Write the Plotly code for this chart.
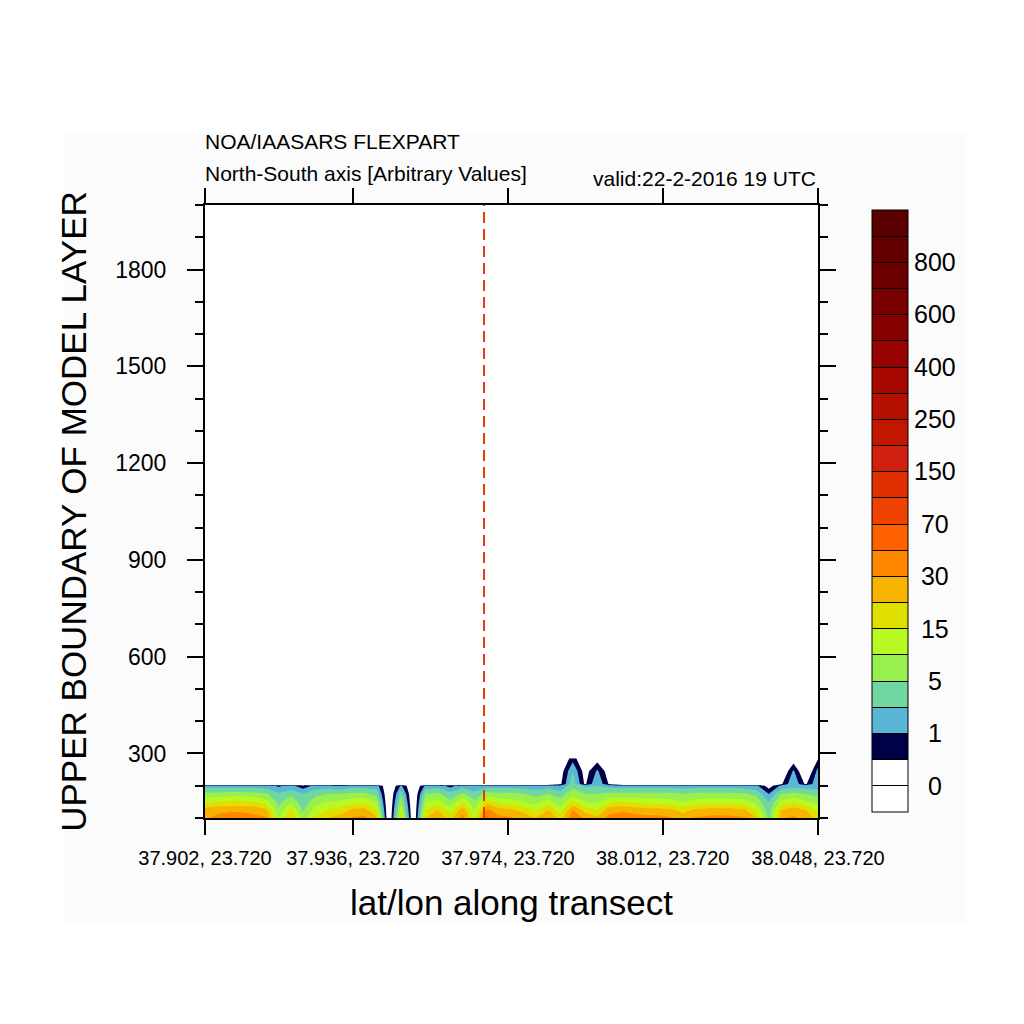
import numpy as np
import plotly.graph_objects as go

# --- data ---
# points along the transect (index) and upper boundary of model layers (m)
POINT_INDEX = list(range(51))
LAYER_TOPS = [100, 125, 150, 175, 200, 205, 245, 285]

# concentration per layer (arbitrary values), one list per layer, columns 0..50
conc_100 = [28, 36, 42, 40, 36, 32, 10, 22, 8, 16, 20, 24, 32, 34, 22, 0, 18, 0, 20, 28,
            18, 38, 14, 55, 36, 32, 26, 20, 30, 18, 45, 28, 22, 38, 42, 40, 36, 36, 32, 26,
            32, 35, 36, 35, 33, 20, 4, 28, 34, 26, 18]
conc_125 = [24, 27, 28, 28, 27, 22, 6, 16, 4.5, 12, 15, 17, 22, 24, 15, 0, 13, 0, 15, 20,
            12, 26, 10, 35, 24, 22, 18, 14, 20, 12, 30, 18, 15, 26, 28, 26, 24, 24, 22, 18,
            22, 24, 24, 24, 22, 14, 3, 20, 25, 20, 13]
conc_150 = [14, 15, 16, 16, 15, 12, 4, 9, 3, 8, 10, 11, 13, 14, 9, 0, 8, 0, 10, 12,
            6, 14, 6, 18, 13, 12, 10, 8, 12, 7, 16, 10, 9, 14, 15, 14, 13, 13, 12, 10,
            12, 13, 13, 13, 12, 8, 2, 11, 14, 11, 8]
conc_175 = [6.5, 6.5, 7, 7, 6.5, 5.5, 2.5, 4, 2, 4, 5, 5, 6, 6, 4, 0, 4, 0, 5, 6,
            3, 6, 3, 7, 6, 6, 5, 4, 5, 3.5, 8, 5, 5, 6, 6, 6, 6, 6, 6, 5,
            6, 6, 6, 6, 5.5, 4, 1.0, 5, 6, 5, 4]
conc_200 = [1.5, 1.5, 1.5, 1.5, 1.5, 1.4, 0.9, 1.3, 0.7, 1.3, 1.5, 1.0, 1.5, 1.5, 1.5, 0, 1.2, 0, 1.3, 1.5,
            0.8, 1.5, 1.2, 1.6, 1.5, 1.5, 1.5, 1.3, 1.5, 1.2, 4, 1.8, 2, 1.6, 1.5, 1.5, 1.5, 1.5, 1.5, 1.4,
            1.5, 1.5, 1.5, 1.5, 1.4, 1.2, 0.2, 1.3, 1.6, 1.4, 1.3]
conc_205 = [0, 0, 0, 0, 0, 0, 0, 0, 0, 0, 0, 0, 0, 0, 0, 0, 0, 0, 0, 0,
            0, 0, 0, 0, 0, 0, 0, 0, 0, 0.4, 4, 0.4, 2, 0.4, 0, 0, 0, 0, 0, 0,
            0, 0, 0, 0, 0, 0, 0, 0.4, 2, 0.4, 2]
conc_245 = [0, 0, 0, 0, 0, 0, 0, 0, 0, 0, 0, 0, 0, 0, 0, 0, 0, 0, 0, 0,
            0, 0, 0, 0, 0, 0, 0, 0, 0, 0.2, 2, 0.2, 1.2, 0.1, 0, 0, 0, 0, 0, 0,
            0, 0, 0, 0, 0, 0, 0, 0, 1.2, 0, 1.4]
conc_285 = [0, 0, 0, 0, 0, 0, 0, 0, 0, 0, 0, 0, 0, 0, 0, 0, 0, 0, 0, 0,
            0, 0, 0, 0, 0, 0, 0, 0, 0, 0, 0.8, 0, 0.2, 0, 0, 0, 0, 0, 0, 0,
            0, 0, 0, 0, 0, 0, 0, 0, 0.1, 0, 0.45]

# contour levels of the colour bar (every other one is labelled)
CONC_LEVELS = [0, 0.5, 1, 2, 5, 10, 15, 20, 30, 50, 70, 100, 150, 200, 250,
               300, 400, 500, 600, 700, 800, 900]
# fill colours, lowest band (below 0) first
LEVEL_COLORS = ["#ffffff", "#ffffff", "#000046", "#59b6d6", "#70d7a0", "#97f04d",
                "#b8f823", "#dfe000", "#f6b400", "#ff8800", "#ff6000", "#ef4200",
                "#e13000", "#d22010", "#c31600", "#b51000", "#a60800", "#960300",
                "#870000", "#780000", "#6c0000", "#620000", "#5a0000"]

# x axis labels (lat, lon) and where they sit along the transect
TICK_POS = [0, 12.07, 24.71, 37.33, 50]
TICK_LABELS = ["37.902, 23.720", "37.936, 23.720", "37.974, 23.720",
               "38.012, 23.720", "38.048, 23.720"]
MARKER_POS = 22.76   # red dashed line (point of interest)


conc = np.array([conc_100, conc_125, conc_150, conc_175,
                 conc_200, conc_205, conc_245, conc_285], dtype=float)

# levels are not evenly spaced -> contour on the level index instead
lev_idx = np.arange(len(CONC_LEVELS))
zi = np.where(conc > 0, np.interp(conc, CONC_LEVELS, lev_idx), -0.5)

nb = len(LEVEL_COLORS) - 1
cscale = [[k / nb, c] for k, c in enumerate(LEVEL_COLORS)]

# stepped version for the label bar: one equal box per band
nbox = len(LEVEL_COLORS)
cscale_steps = []
for k, c in enumerate(LEVEL_COLORS):
    cscale_steps += [[k / nbox, c], [(k + 1) / nbox, c]]


def centred(lbl):
    # pad so the numbers sit centred under each other like in NCL
    pad = {1: 2, 2: 1}.get(len(lbl), 0)
    return "\u00a0" * pad + lbl


cb_vals = list(lev_idx)
cb_text = [centred(f"{v:g}") if i % 2 == 0 else "" for i, v in enumerate(CONC_LEVELS)]

fig = go.Figure()

# invisible copy of the field, only used for the boxed colour bar
fig.add_trace(go.Heatmap(
    x=POINT_INDEX, y=LAYER_TOPS, z=zi,
    zmin=-1, zmax=len(CONC_LEVELS), colorscale=cscale_steps,
    opacity=0, hoverinfo="skip",
    colorbar=dict(
        x=1.0881, xanchor="left", xpad=0,
        y=0.5008, yanchor="middle", ypad=0,
        thickness=36, lenmode="pixels", len=602,
        outlinecolor="black", outlinewidth=1,
        tickvals=cb_vals, ticktext=cb_text,
        ticks="inside", ticklen=36, tickwidth=1, tickcolor="black",
        tickfont=dict(size=25, color="black"),
    ),
))

fig.add_trace(go.Contour(
    x=POINT_INDEX, y=LAYER_TOPS, z=zi,
    colorscale=cscale,
    contours=dict(start=0, end=len(CONC_LEVELS) - 1, size=1, coloring="fill"),
    line=dict(width=0, smoothing=0),
    showscale=False, hoverinfo="skip",
))

fig.add_trace(go.Scatter(
    x=[MARKER_POS, MARKER_POS], y=[100, 2000], mode="lines",
    line=dict(color="#e03a12", width=2, dash="11px,6px"),
    showlegend=False, hoverinfo="skip",
))

FONT = "Liberation Sans, Arial, sans-serif"

# the page body adds 8px, so margins are 8px smaller on top/left
fig.update_layout(
    width=1024, height=1024,
    margin=dict(l=197, r=214, t=197, b=214),
    paper_bgcolor="white", plot_bgcolor="white",
    font=dict(family=FONT, color="black"),
    showlegend=False,
    xaxis=dict(
        range=[0, 50], tickvals=TICK_POS, ticktext=TICK_LABELS,
        ticks="outside", ticklen=15, tickwidth=1.5, tickcolor="black",
        showline=True, linecolor="black", linewidth=2, mirror="ticks",
        showgrid=False, zeroline=False, ticklabelstandoff=6,
        tickfont=dict(size=20),
        title=dict(text="lat/lon along transect", font=dict(size=35), standoff=22),
    ),
    yaxis=dict(
        range=[100, 2000], tick0=0, dtick=300, tickformat="d",
        ticks="outside", ticklen=16, tickwidth=1.5, tickcolor="black",
        minor=dict(dtick=100, tick0=0, ticks="outside", ticklen=8,
                   tickwidth=1.5, tickcolor="black"),
        showline=True, linecolor="black", linewidth=2, mirror="ticks",
        showgrid=False, zeroline=False, ticklabelstandoff=16,
        tickfont=dict(size=23),
        title=dict(text="UPPER BOUNDARY OF MODEL LAYER", font=dict(size=35), standoff=18),
    ),
    shapes=[
        dict(type="rect", xref="paper", yref="paper", layer="below",
             x0=-0.2284, x1=1.2398, y0=-0.1713, y1=1.1175,
             fillcolor="#fbfbfb", line=dict(width=0)),
        dict(type="rect", xref="paper", yref="paper", layer="below",
             x0=0, x1=1, y0=0, y1=1, fillcolor="white", line=dict(width=0)),
    ],
    annotations=[
        dict(text="NOA/IAASARS FLEXPART", xref="paper", yref="paper",
             x=-0.0033, y=1.1028, xanchor="left", yanchor="middle",
             showarrow=False, font=dict(size=21)),
        dict(text="North-South axis [Arbitrary Values]", xref="paper", yref="paper",
             x=-0.0033, y=1.0522, xanchor="left", yanchor="middle",
             showarrow=False, font=dict(size=21)),
        dict(text="valid:22-2-2016 19 UTC", xref="paper", yref="paper",
             x=1.0, y=1.044, xanchor="right", yanchor="middle",
             showarrow=False, font=dict(size=21)),
    ],
)

fig.write_html("out.html")
